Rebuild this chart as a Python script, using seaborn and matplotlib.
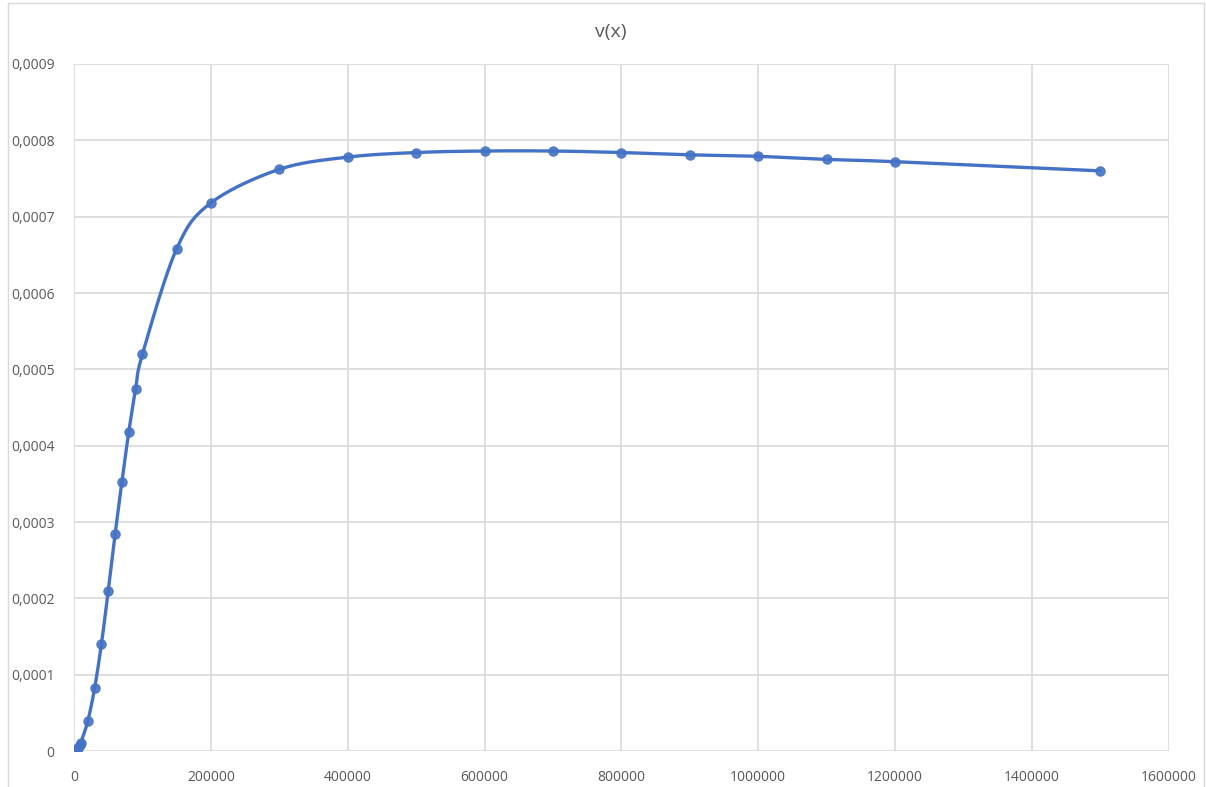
import numpy as np
import pandas as pd
import matplotlib
matplotlib.use("Agg")
import matplotlib.pyplot as plt
import matplotlib.ticker as mticker
from matplotlib.patches import Rectangle
import seaborn as sns

x_vals = [0, 2000, 4000, 6000, 8000, 10000, 20000, 30000, 40000, 50000, 60000,
          70000, 80000, 90000, 100000, 150000, 200000, 300000, 400000, 500000,
          600000, 700000, 800000, 900000, 1000000, 1100000, 1200000, 1500000]
v_vals = [0.0, 1.0e-6, 2.5e-6, 4.5e-6, 7.5e-6, 1.1e-5, 3.9e-5, 8.2e-5, 1.40e-4,
          2.10e-4, 2.84e-4, 3.53e-4, 4.18e-4, 4.74e-4, 5.20e-4, 6.58e-4,
          7.18e-4, 7.62e-4, 7.78e-4, 7.84e-4, 7.86e-4, 7.86e-4, 7.84e-4,
          7.81e-4, 7.79e-4, 7.75e-4, 7.72e-4, 7.60e-4]

df = pd.DataFrame({"x": x_vals, "v": v_vals})


def smooth_curve(xs, ys, n=30):
    # Catmull-Rom style smoothing, like Excel's "smoothed line"
    xs = np.asarray(xs, float)
    ys = np.asarray(ys, float)
    px = np.concatenate([[xs[0]], xs, [xs[-1]]])
    py = np.concatenate([[ys[0]], ys, [ys[-1]]])
    out_x, out_y = [], []
    t = np.linspace(0, 1, n)
    for i in range(1, len(px) - 2):
        p0x, p1x, p2x, p3x = px[i - 1], px[i], px[i + 1], px[i + 2]
        p0y, p1y, p2y, p3y = py[i - 1], py[i], py[i + 1], py[i + 2]
        c1x = p1x + (p2x - p0x) / 6
        c1y = p1y + (p2y - p0y) / 6
        c2x = p2x - (p3x - p1x) / 6
        c2y = p2y - (p3y - p1y) / 6
        bx = (1 - t) ** 3 * p1x + 3 * (1 - t) ** 2 * t * c1x + 3 * (1 - t) * t ** 2 * c2x + t ** 3 * p2x
        by = (1 - t) ** 3 * p1y + 3 * (1 - t) ** 2 * t * c1y + 3 * (1 - t) * t ** 2 * c2y + t ** 3 * p2y
        out_x.extend(bx)
        out_y.extend(by)
    return pd.DataFrame({"x": out_x, "v": out_y})


curve = smooth_curve(x_vals, v_vals)

sns.set_theme(style="white")
plt.rcParams["font.family"] = ["Open Sans", "DejaVu Sans"]

blue = "#4472C4"
grey_txt = "#595959"
grid_c = "#D9D9D9"

fig = plt.figure(figsize=(12.06, 7.87), dpi=100)
ax = fig.add_axes([0.0614, 0.0457, 0.9076, 0.873])

sns.lineplot(data=curve, x="x", y="v", ax=ax, color=blue, linewidth=2.4,
             sort=False, estimator=None)
sns.scatterplot(data=df, x="x", y="v", ax=ax, color=blue, s=45,
                edgecolor=blue, linewidth=0.8, alpha=0.9, zorder=3)

ax.set_xlim(0, 1600000)
ax.set_ylim(0, 0.0009)
ax.xaxis.set_major_locator(mticker.MultipleLocator(200000))
ax.yaxis.set_major_locator(mticker.MultipleLocator(0.0001))
ax.xaxis.set_major_formatter(mticker.FuncFormatter(lambda v, p: f"{v:.0f}"))
ax.yaxis.set_major_formatter(mticker.FuncFormatter(
    lambda v, p: "0" if abs(v) < 1e-12 else f"{v:.4f}".replace(".", ",")))

ax.grid(True, color=grid_c, linewidth=1.2)
ax.set_axisbelow(True)
for s in ax.spines.values():
    s.set_visible(False)
ax.tick_params(axis="both", length=0, colors=grey_txt, labelsize=10)
ax.tick_params(axis="x", pad=14)
ax.tick_params(axis="y", pad=14)
ax.set_xlabel("")
ax.set_ylabel("")

fig.text(0.5067, 0.959, "v(x)", ha="center", va="center", fontsize=14,
         color=grey_txt)

fig.patches.append(Rectangle((0.0066, -0.01), 0.9917, 1.006,
                             transform=fig.transFigure, fill=False,
                             edgecolor=grid_c, linewidth=1.0))

fig.savefig("out.png", dpi=100)
